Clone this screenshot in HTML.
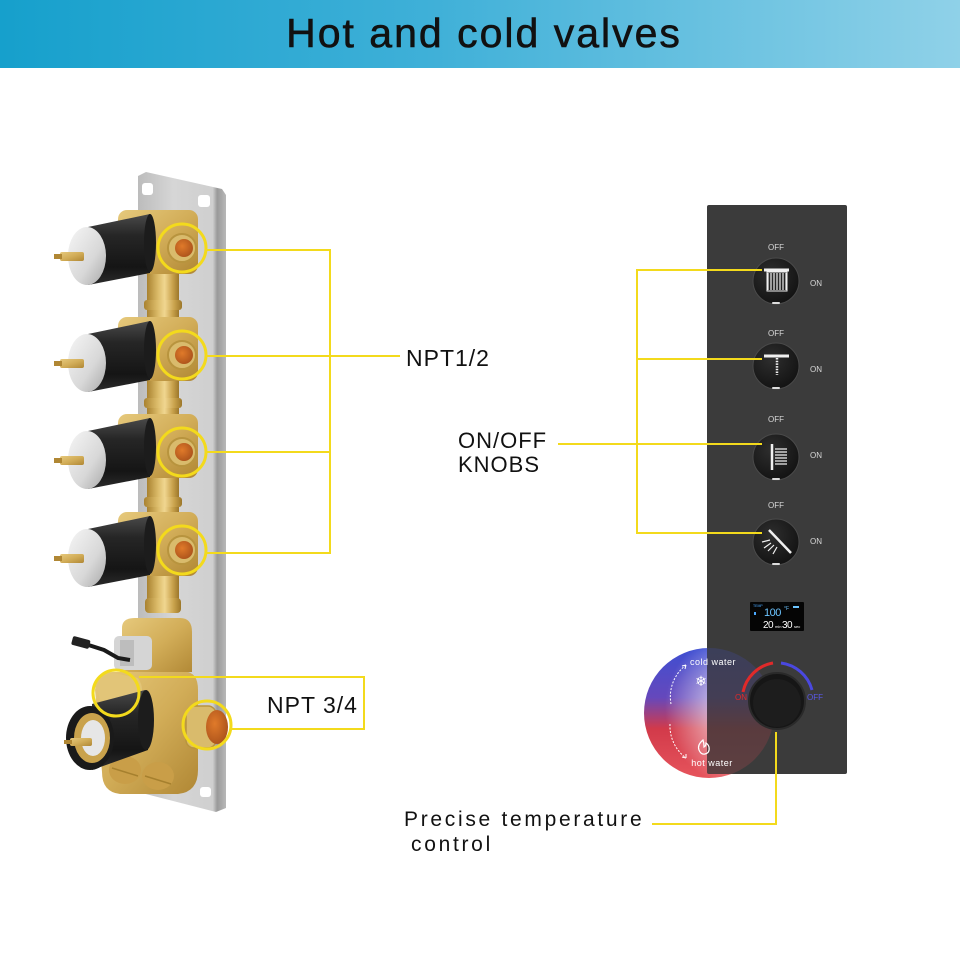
<!DOCTYPE html>
<html><head><meta charset="utf-8"><style>
html,body{margin:0;padding:0;background:#fff;}
svg{display:block;}
.lbl{font-family:"Liberation Sans",sans-serif;fill:#111;}
</style></head><body>
<svg width="960" height="960" viewBox="0 0 960 960" xmlns="http://www.w3.org/2000/svg">
<defs>
  <linearGradient id="hdr" x1="0" x2="1" y1="0" y2="0">
    <stop offset="0" stop-color="#16a0cc"/>
    <stop offset="0.45" stop-color="#3fb0d8"/>
    <stop offset="1" stop-color="#8fd1e8"/>
  </linearGradient>
  <linearGradient id="plate" x1="0" x2="1" y1="0" y2="0">
    <stop offset="0" stop-color="#bcbcbc"/>
    <stop offset="0.4" stop-color="#d6d6d6"/>
    <stop offset="0.85" stop-color="#cfcfcf"/>
    <stop offset="0.9" stop-color="#9a9a9a"/>
    <stop offset="1" stop-color="#b8b8b8"/>
  </linearGradient>
  <linearGradient id="brassH" x1="0" x2="1" y1="0" y2="0">
    <stop offset="0" stop-color="#a98230"/>
    <stop offset="0.35" stop-color="#dcbc6a"/>
    <stop offset="0.55" stop-color="#f0d690"/>
    <stop offset="0.8" stop-color="#c9a24c"/>
    <stop offset="1" stop-color="#9c772a"/>
  </linearGradient>
  <linearGradient id="brassB" x1="0" x2="1" y1="0" y2="1">
    <stop offset="0" stop-color="#e6c97c"/>
    <stop offset="0.5" stop-color="#d2ad58"/>
    <stop offset="1" stop-color="#b08734"/>
  </linearGradient>
  <linearGradient id="blackC" x1="0" x2="0" y1="0" y2="1">
    <stop offset="0" stop-color="#4a4a4a"/>
    <stop offset="0.3" stop-color="#262626"/>
    <stop offset="0.75" stop-color="#151515"/>
    <stop offset="1" stop-color="#2c2c2c"/>
  </linearGradient>
  <linearGradient id="cap" x1="0" x2="1" y1="0" y2="1">
    <stop offset="0" stop-color="#f6f6f6"/>
    <stop offset="0.6" stop-color="#d8d8d8"/>
    <stop offset="1" stop-color="#a8a8a8"/>
  </linearGradient>
  <radialGradient id="orange" cx="0.4" cy="0.4" r="0.7">
    <stop offset="0" stop-color="#e07a2a"/>
    <stop offset="1" stop-color="#a8501a"/>
  </radialGradient>
  <linearGradient id="tempBase" x1="0" x2="0" y1="0" y2="1">
    <stop offset="0" stop-color="#3e4fd2"/>
    <stop offset="0.38" stop-color="#6548bc"/>
    <stop offset="0.62" stop-color="#d23a4a"/>
    <stop offset="1" stop-color="#e6545c"/>
  </linearGradient>
  <radialGradient id="tempWhite" cx="745" cy="708" r="80" gradientUnits="userSpaceOnUse">
    <stop offset="0" stop-color="#fff" stop-opacity="0.95"/>
    <stop offset="0.45" stop-color="#fff" stop-opacity="0.55"/>
    <stop offset="1" stop-color="#fff" stop-opacity="0"/>
  </radialGradient>
  <radialGradient id="knob" cx="0.4" cy="0.35" r="0.7">
    <stop offset="0" stop-color="#2e2e2e"/>
    <stop offset="1" stop-color="#121212"/>
  </radialGradient>
  <clipPath id="panelClip"><rect x="707" y="205" width="140" height="569"/></clipPath>
</defs>

<!-- header -->
<rect x="0" y="0" width="960" height="68" fill="url(#hdr)"/>
<text x="484" y="47" text-anchor="middle" font-family="Liberation Sans, sans-serif" font-size="41" letter-spacing="2" fill="#111" stroke="#111" stroke-width="0.6">Hot and cold valves</text>

<!-- ============ LEFT PRODUCT ============ -->
<!-- backplate -->
<polygon points="138,176 146,172 222,189 226,195 226,808 216,812 138,792" fill="url(#plate)"/>
<rect x="142" y="183" width="11" height="12" rx="3" fill="#fff"/>
<rect x="198" y="195" width="12" height="12" rx="3" fill="#fff"/>
<rect x="200" y="787" width="11" height="10" rx="3" fill="#fff"/>

<!-- vertical pipe -->
<rect x="147" y="212" width="32" height="400" fill="url(#brassH)"/>
<rect x="144" y="300" width="38" height="10" rx="3" fill="url(#brassH)"/>
<rect x="144" y="398" width="38" height="10" rx="3" fill="url(#brassH)"/>
<rect x="144" y="497" width="38" height="10" rx="3" fill="url(#brassH)"/>
<rect x="145" y="598" width="36" height="15" rx="4" fill="url(#brassH)"/>

<!-- valve units -->
<g id="v1">
  <rect x="118" y="210" width="80" height="64" rx="9" fill="url(#brassB)"/>
  <circle cx="182" cy="248" r="14" fill="#d9bb6c" stroke="#b8943e" stroke-width="2"/>
  <circle cx="184" cy="248" r="9" fill="url(#orange)"/>
  <polygon points="88,227 150,214 150,273 88,285" fill="url(#blackC)"/>
  <ellipse cx="150" cy="243" rx="6" ry="29" fill="#1c1c1c"/>
  <ellipse cx="87" cy="256" rx="19" ry="29" fill="url(#cap)"/>
  <rect x="60" y="252" width="24" height="9" rx="2" fill="url(#brassB)"/>
  <rect x="54" y="254" width="8" height="5" fill="#b08734"/>
</g>
<use href="#v1" transform="translate(0,107)"/>
<use href="#v1" transform="translate(0,204)"/>
<use href="#v1" transform="translate(0,302)"/>

<!-- mixer/cable section -->
<path d="M122,628 Q122,618 135,618 L180,618 Q192,618 192,632 L192,672 L122,676 Z" fill="url(#brassB)"/>
<rect x="114" y="636" width="38" height="34" rx="5" fill="#d5d5d5"/>
<rect x="120" y="640" width="14" height="26" fill="#bdbdbd"/>
<path d="M76,641 L104,650 L118,658 L130,660" stroke="#1a1a1a" stroke-width="4" fill="none"/>
<rect x="72" y="638" width="18" height="9" rx="2" fill="#222" transform="rotate(15 81 642)"/>

<!-- lower thermostatic body -->
<path d="M95,690 Q96,672 112,672 L185,672 Q198,672 198,690 L198,770 Q198,792 178,794 L120,794 Q102,792 102,772 Z" fill="url(#brassB)"/>
<ellipse cx="125" cy="770" rx="16" ry="14" fill="#c99e48"/>
<ellipse cx="158" cy="776" rx="16" ry="14" fill="#c99e48"/>
<path d="M112,768 L138,776 M145,776 L171,784" stroke="#a6802e" stroke-width="1.5"/>
<rect x="186" y="706" width="30" height="42" rx="8" fill="#d9bb6c" stroke="#b8943e" stroke-width="1.5"/>
<ellipse cx="217" cy="727" rx="11" ry="17" fill="url(#orange)"/>
<path d="M96,684 Q100,672 118,674 L138,678 Q146,690 138,700 L100,700 Z" fill="#e2c578"/>
<polygon points="92,704 145,690 148,750 92,770" fill="url(#blackC)"/>
<ellipse cx="146" cy="720" rx="8" ry="30" fill="#1c1c1c"/>
<ellipse cx="90" cy="738" rx="24" ry="32" fill="#1a1a1a"/>
<ellipse cx="92" cy="738" rx="18" ry="25" fill="#c9a24c"/>
<ellipse cx="93" cy="738" rx="12" ry="18" fill="#e6e6e6"/>
<rect x="70" y="738" width="22" height="8" rx="2" fill="url(#brassB)"/>
<rect x="64" y="740" width="8" height="4" fill="#b08734"/>

<!-- yellow callouts left -->
<g fill="none" stroke="#f3da1c">
  <circle cx="182" cy="248" r="24" stroke-width="3"/>
  <circle cx="182" cy="355" r="24" stroke-width="3"/>
  <circle cx="182" cy="452" r="24" stroke-width="3"/>
  <circle cx="182" cy="550" r="24" stroke-width="3"/>
  <circle cx="116" cy="693" r="23" stroke-width="3"/>
  <circle cx="207" cy="725" r="24" stroke-width="3"/>
  <path d="M206,250 H330 V553 H206 M206,356 H400 M206,452 H330" stroke-width="2"/>
  <path d="M139,677 H364 V729 H231" stroke-width="2"/>
</g>
<text class="lbl" x="406" y="366" font-size="23" letter-spacing="1">NPT1/2</text>
<text class="lbl" x="267" y="713" font-size="23" letter-spacing="1">NPT 3/4</text>

<!-- ============ RIGHT PANEL ============ -->
<circle cx="709" cy="713" r="65" fill="url(#tempBase)"/>
<circle cx="709" cy="713" r="65" fill="url(#tempWhite)"/>
<rect x="707" y="205" width="140" height="569" rx="2" fill="#3b3b3b"/>
<g clip-path="url(#panelClip)" opacity="0.2">
  <circle cx="709" cy="713" r="65" fill="url(#tempBase)"/>
</g>

<!-- knobs -->
<g font-family="Liberation Sans, sans-serif" font-size="8" fill="#d8d8d8" text-anchor="middle">
  <text x="776" y="250">OFF</text><text x="816" y="286">ON</text>
  <text x="776" y="336">OFF</text><text x="816" y="372">ON</text>
  <text x="776" y="422">OFF</text><text x="816" y="458">ON</text>
  <text x="776" y="508">OFF</text><text x="816" y="544">ON</text>
</g>
<g stroke="#4a4a4a" stroke-width="1">
  <circle cx="776" cy="281" r="23" fill="url(#knob)"/>
  <circle cx="776" cy="366" r="23" fill="url(#knob)"/>
  <circle cx="776" cy="457" r="23" fill="url(#knob)"/>
  <circle cx="776" cy="542" r="23" fill="url(#knob)"/>
</g>
<g fill="#ddd">
  <rect x="772" y="302" width="8" height="2" rx="1"/>
  <rect x="772" y="387" width="8" height="2" rx="1"/>
  <rect x="772" y="478" width="8" height="2" rx="1"/>
  <rect x="772" y="563" width="8" height="2" rx="1"/>
</g>
<!-- icon 1 rain -->
<g stroke="#f0f0f0" fill="none">
  <path d="M764,270 H789" stroke-width="3"/>
  <path d="M768,273 V290 M771,273 V290 M774,273 V290 M777,273 V290 M780,273 V290 M783,273 V290 M786,273 V290" stroke-width="1.2"/>
  <rect x="767" y="272" width="20" height="19" stroke-width="1"/>
  <!-- icon 2 -->
  <path d="M764,356 H789" stroke-width="3"/>
  <path d="M777,358 V375" stroke-width="2.5" stroke-dasharray="1.5,1.2"/>
  <!-- icon 3 -->
  <path d="M772,444 V470" stroke-width="2.5"/>
  <path d="M775,449 H787 M775,452 H787 M775,455 H787 M775,458 H787 M775,461 H787 M775,464 H787" stroke-width="1.2"/>
  <!-- icon 4 -->
  <path d="M769,530 L791,553" stroke-width="2.5"/>
  <path d="M770,540 L762,542 M771,543 L764,548 M774,545 L768,551 M777,547 L773,554" stroke-width="1.2"/>
</g>

<!-- display -->
<rect x="750" y="602" width="54" height="29" rx="1" fill="#050505"/>
<text x="753" y="607" font-family="Liberation Sans, sans-serif" font-size="3.5" fill="#4aa8ff">TEMP</text>
<rect x="754" y="612" width="2" height="3" fill="#4aa8ff"/>
<text x="764" y="616" font-family="Liberation Sans, sans-serif" font-size="11" fill="#6cc4ff" letter-spacing="-0.5">100</text>
<text x="784" y="610" font-family="Liberation Sans, sans-serif" font-size="5" fill="#6cc4ff">°F</text>
<rect x="793" y="606" width="6" height="2" fill="#6cc4ff"/>
<text x="763" y="628" font-family="Liberation Sans, sans-serif" font-size="10" fill="#fff" letter-spacing="-0.5">20</text>
<text x="775" y="628" font-family="Liberation Sans, sans-serif" font-size="4" fill="#fff">min</text>
<text x="782" y="628" font-family="Liberation Sans, sans-serif" font-size="10" fill="#fff" letter-spacing="-0.5">30</text>
<text x="794" y="628" font-family="Liberation Sans, sans-serif" font-size="4" fill="#fff">sec</text>

<!-- big knob -->
<path d="M743,692 A37,37 0 0 1 773,663" stroke="#e02a2a" stroke-width="3" fill="none"/>
<path d="M781,663 A37,37 0 0 1 812,690" stroke="#4a48e0" stroke-width="3" fill="none"/>
<text x="741" y="700" font-family="Liberation Sans, sans-serif" font-size="8" fill="#e02a2a" text-anchor="middle">ON</text>
<text x="815" y="700" font-family="Liberation Sans, sans-serif" font-size="8" fill="#5a58e8" text-anchor="middle">OFF</text>
<circle cx="777" cy="701" r="28" fill="#161616" stroke="#2a2a2a" stroke-width="2"/>
<circle cx="777" cy="703" r="24" fill="#1d1d1d"/>

<!-- temp circle texts/icons -->
<text x="713" y="665" font-family="Liberation Sans, sans-serif" font-size="9" fill="#fff" text-anchor="middle" letter-spacing="0.5">cold water</text>
<text x="712" y="766" font-family="Liberation Sans, sans-serif" font-size="9" fill="#fff" text-anchor="middle" letter-spacing="0.5">hot water</text>
<text x="701" y="686" font-family="DejaVu Sans, sans-serif" font-size="14" fill="#fff" text-anchor="middle">❄</text>
<path d="M703,740 q-6,5 -4,10 q2,5 6,4 q5,-1 4,-7 q-1,-3 -3,-4 q0,3 -2,4 q0,-4 -1,-7 z" fill="none" stroke="#fff" stroke-width="1.2"/>
<path d="M671,704 A40,40 0 0 1 686,665" stroke="#fff" stroke-width="1" fill="none" stroke-dasharray="2,1.5"/>
<path d="M670,724 A40,40 0 0 0 686,758" stroke="#fff" stroke-width="1" fill="none" stroke-dasharray="2,1.5"/>
<path d="M686,665 l-1,4 M686,665 l-4,1" stroke="#fff" stroke-width="1"/>
<path d="M686,758 l-4,-1 M686,758 l0,-4" stroke="#fff" stroke-width="1"/>

<!-- yellow callouts right -->
<g fill="none" stroke="#f3da1c" stroke-width="2">
  <path d="M762,270 H637 V533 H762 M762,359 H637 M762,444 H558"/>
  <path d="M776,732 V824 H652"/>
</g>
<text class="lbl" x="458" y="448" font-size="22" letter-spacing="1">ON/OFF</text>
<text class="lbl" x="458" y="472" font-size="22" letter-spacing="1">KNOBS</text>
<text class="lbl" x="404" y="826" font-size="21" letter-spacing="2.7">Precise temperature</text>
<text class="lbl" x="411" y="851" font-size="21" letter-spacing="2.7">control</text>
</svg>
</body></html>
